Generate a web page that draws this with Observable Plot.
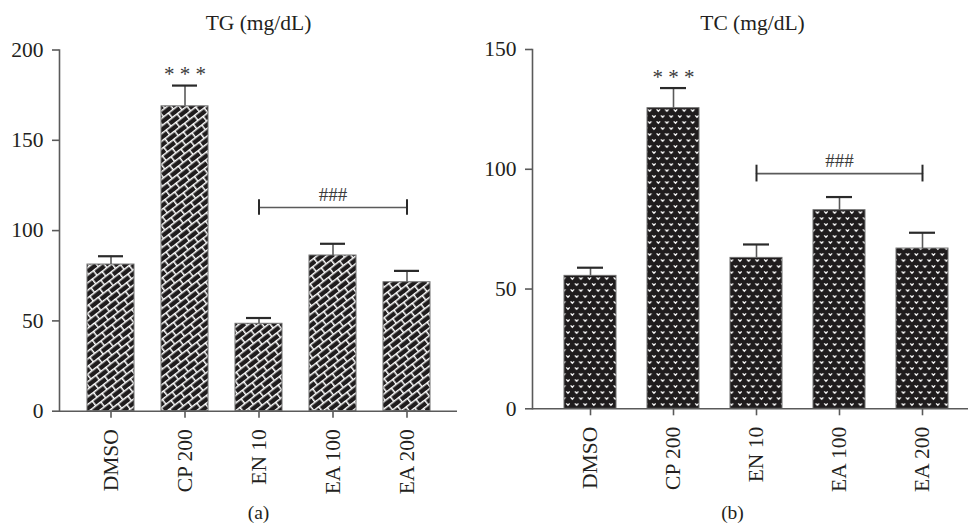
<!DOCTYPE html>
<html>
<head>
<meta charset="utf-8">
<script src="https://cdn.jsdelivr.net/npm/d3@7"></script>
<script src="https://cdn.jsdelivr.net/npm/@observablehq/plot@0.6"></script>
<style>
  html, body { margin: 0; padding: 0; background: #fff; }
  #wrap { display: flex; width: 968px; height: 525px; }
</style>
</head>
<body>
<div id="wrap"></div>
<script>
// ---- data ----
const groups = ["DMSO", "CP 200", "EN 10", "EA 100", "EA 200"];
const tgMean = [81.2, 168.8, 48.4, 86.2, 71.4];
const tgSE   = [4.6, 11.5, 3.2, 6.5, 6.3];
const tcMean = [55.5, 125.5, 63.0, 82.9, 66.9];
const tcSE   = [3.4, 8.4, 5.6, 5.5, 6.6];
const tgTicks = [0, 50, 100, 150, 200];
const tcTicks = [0, 50, 100, 150];
const starGroup = "CP 200";
const starLabel = "* * *";
const hashLabel = "###";
const bracketFrom = "EN 10";
const bracketTo = "EA 200";
const bracketMid = "EA 100";
const tgBracketY = 112.8;
const tcBracketY = 98.2;

const FONT = "Liberation Serif, Times New Roman, serif";
const INK = "#231f20";
const AXIS = "#5a5a5a";
const FS = 21.5;

function build(cfg) {
  const data = groups.map((g, i) => ({g, v: cfg.mean[i], se: cfg.se[i]}));
  const star = data.filter(d => d.g === starGroup);
  const br = [{x: bracketFrom, y: cfg.bracketY}, {x: bracketTo, y: cfg.bracketY}];
  const svg = Plot.plot({
    width: 484, height: 525,
    marginLeft: cfg.ml, marginRight: cfg.mr, marginTop: cfg.mt, marginBottom: cfg.mb,
    style: {fontFamily: FONT, fontSize: FS + "px", color: INK, background: "white"},
    x: {type: "band", domain: groups, paddingInner: cfg.pi, paddingOuter: cfg.po, align: cfg.align, axis: null},
    y: {domain: cfg.domain, axis: null},
    marks: [
      Plot.barY(data, {x: "g", y: "v", fill: `url(#${cfg.pat})`, stroke: "#6e6e6e", strokeWidth: 1}),
      Plot.ruleX(data, {x: "g", y1: "v", y2: d => d.v + d.se, stroke: AXIS, strokeWidth: 1.6}),
      Plot.tickY(data, {x: "g", y: d => d.v + d.se, insetLeft: cfg.capInset, insetRight: cfg.capInset, stroke: "#2a2a2a", strokeWidth: 2.2}),
      Plot.ruleY([0], {stroke: AXIS, strokeWidth: 1.6}),
      Plot.frame({anchor: "left", stroke: AXIS, strokeWidth: 1.6}),
      Plot.axisY({ticks: cfg.ticks, tickSize: 7, tickPadding: 9, stroke: AXIS, strokeWidth: 1.6, fill: INK, fontSize: FS, fontFamily: FONT, label: null}),
      Plot.axisX({tickSize: 7, tickPadding: 11, tickRotate: -90, stroke: AXIS, strokeWidth: 1.6, fill: INK, fontSize: FS, fontFamily: FONT, label: null}),
      Plot.text(star, {x: "g", y: d => d.v + d.se, text: () => starLabel, dy: -11, fontSize: 21, fill: "#3a3a3a", fontFamily: FONT}),
      Plot.line(br, {x: "x", y: "y", stroke: AXIS, strokeWidth: 1.6}),
      Plot.ruleX(br, {x: "x", y1: d => d.y - cfg.endH, y2: d => d.y + cfg.endH, stroke: "#2a2a2a", strokeWidth: 2}),
      Plot.text([hashLabel], {x: () => bracketMid, y: () => cfg.bracketY, dy: -13, fontSize: 19, fill: "#3a3a3a", fontFamily: FONT}),
      Plot.text([cfg.title], {frameAnchor: "top", lineAnchor: "middle", dx: cfg.titleDx, dy: cfg.titleDy, fontSize: FS, fill: INK, fontFamily: FONT}),
      Plot.text([cfg.panel], {frameAnchor: "bottom", lineAnchor: "middle", dx: cfg.panelDx, dy: cfg.panelDy, fontSize: 19.5, fill: INK, fontFamily: FONT})
    ]
  });
  const defs = `
    <pattern id="brick" patternUnits="userSpaceOnUse" width="12.5" height="12" patternTransform="rotate(-38)">
      <rect width="12.5" height="12" fill="#1f1c1d"/>
      <path d="M0,0.75H12.5M0,6.75H12.5M0.75,0.75V6.75M7,6.75V12.75" stroke="#fff" stroke-width="1.5" fill="none"/>
    </pattern>
    <pattern id="vdots" patternUnits="userSpaceOnUse" width="8.6" height="12">
      <rect width="8.6" height="12" fill="#1f1c1d"/>
      <path d="M0.6,1.4L2.3,3.2L4,1.4M4.9,7.4L6.6,9.2L8.3,7.4" stroke="#fff" stroke-width="1.3" fill="none"/>
    </pattern>`;
  d3.select(svg).insert("defs", ":first-child").html(defs);
  return svg;
}

const wrap = document.getElementById("wrap");
wrap.appendChild(build({
  mean: tgMean, se: tgSE, ticks: tgTicks, domain: [0, 200], bracketY: tgBracketY,
  ml: 59, mr: 27, mt: 49.5, mb: 114.3, pi: 0.37, po: 0.356, align: 0.5,
  capInset: 11, endH: 4.3, pat: "brick",
  title: "TG (mg/dL)", titleDx: 0, titleDy: -27, panel: "(a)", panelDx: 0, panelDy: 101.5
}));
wrap.appendChild(build({
  mean: tcMean, se: tcSE, ticks: tcTicks, domain: [0, 150], bracketY: tcBracketY,
  ml: 48, mr: 0, mt: 49, mb: 116.7, pi: 0.369, po: 0.28, align: 0.628,
  capInset: 13, endH: 3.5, pat: "vdots",
  title: "TC (mg/dL)", titleDx: 2, titleDy: -26.5, panel: "(b)", panelDx: -18, panelDy: 104
}));
</script>
</body>
</html>
